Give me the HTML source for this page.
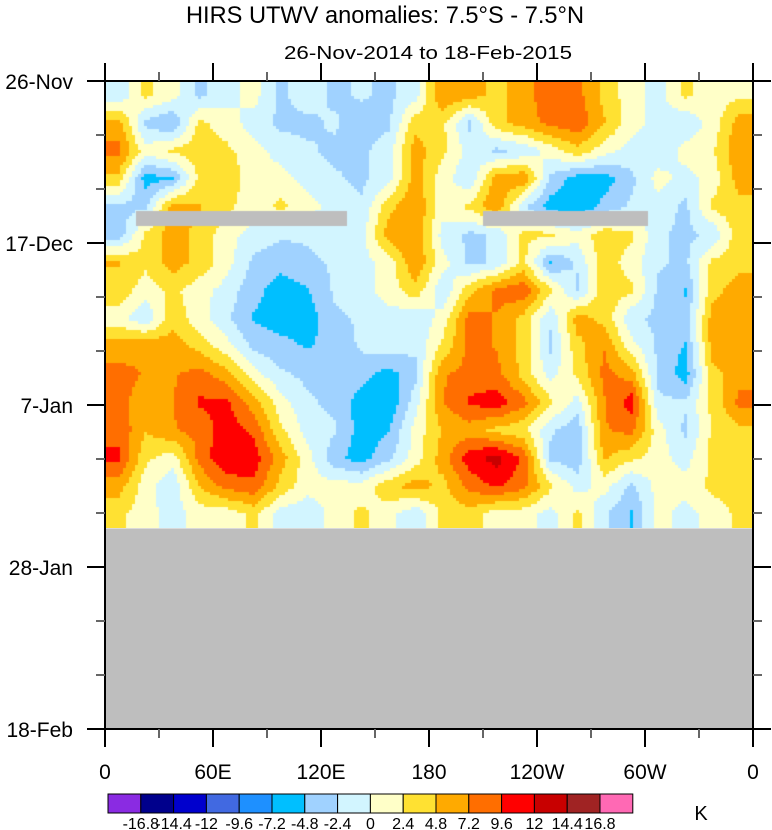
<!DOCTYPE html>
<html><head><meta charset="utf-8"><style>
body{margin:0;background:#fff;width:772px;height:830px;overflow:hidden;font-family:"Liberation Sans",Arial,sans-serif}
#wrap{position:relative;width:772px;height:830px}
canvas{position:absolute;left:105px;top:81px}
svg{position:absolute;left:0;top:0}
</style></head><body>
<div id="wrap">
<canvas id="cv" width="648" height="447"></canvas>
<svg id="sv" width="772" height="830"></svg>
</div>
<script>
// Data grid: rows = time (26-Nov onward, ~3.6 days each), cols = longitude bins (15° each from 0E)
const row00=[-2,3,1,-3,-1,1,-3,-1,-3,-2,-3,-1,7,6,4,6,9,8,4,1,-1,3,1,2];
const row01=[6,-3,-5,3,1,-1,-3,-3,-2,-4,-3,4,3,-3,4,6,8,9,5,1,-1,-2,1,6];
const row02=[8,1,3,4,3,1,-1,-2,-3,-3,-1,6,3,-1,-3,-2,1,4,1,-1,-2,1,2,7];
const row03=[4,-6,-5,3,4,1,1,-1,-2,-3,-1,6,1,-2,6,7,-3,-6,-6,-3,1,-1,1,6];
const row04=[-3,-3,6,5,3,1,3,1,-1,-2,4,7,1,3,7,-2,-6,-7,-4,-2,-1,-3,3,4];
const row05=[-4,3,6,4,1,-1,-2,-2,-1,-1,6,7,-1,-3,-2,3,3,1,4,3,-2,-3,-2,4];
const row06=[5,3,6,4,1,-3,-4,-3,-2,-1,1,7,1,-3,-2,3,-5,-2,4,1,-2,-3,3,4];
const row07=[4,1,3,1,-1,-4,-6,-5,-2,-1,1,4,-2,4,8,9,3,-3,4,3,-3,-5,4,6];
const row08=[1,-2,4,1,-2,-5,-6,-6,-3,-2,-1,-2,1,8,7,4,-2,6,4,-2,-3,-4,6,7];
const row09=[6,7,6,4,1,-3,-4,-5,-4,-2,-1,-2,3,8,7,4,-3,4,7,1,-3,-5,6,7];
const row10=[8,7,7,8,6,1,-2,-3,-3,-4,-6,-3,7,8,8,4,-1,3,8,6,-3,-6,4,6];
const row11=[8,6,7,10,10,6,1,-2,-3,-6,-7,-1,7,10,11,8,3,-1,7,11,-2,-2,3,8];
const row12=[9,5,7,8,11,9,3,-1,-2,-6,-5,1,5,6,4,3,-2,-4,7,8,1,-3,3,4];
const row13=[10,3,1,8,12,11,6,1,-4,-6,-3,1,6,11,13,9,-3,-4,5,3,1,-1,3,4];
const row14=[6,1,-2,5,8,9,4,1,1,1,4,6,4,8,10,8,3,-1,1,-3,1,1,3,4];
const row15=[3,1,-1,1,1,3,-1,-2,1,3,1,-2,3,4,1,1,-1,3,-2,-5,1,-1,1,3];
const grid=[row00,row01,row02,row03,row04,row05,row06,row07,row08,row09,row10,row11,row12,row13,row14,row15];
const levels=[-16.8,-14.4,-12,-9.6,-7.2,-4.8,-2.4,0,2.4,4.8,7.2,9.6,12,14.4,16.8];
const levelLabels=["-16.8","-14.4","-12","-9.6","-7.2","-4.8","-2.4","0","2.4","4.8","7.2","9.6","12","14.4","16.8"];
const colors=["#8a2be2","#00008c","#0000cd","#4169e1","#1e90ff","#00bfff","#a0d2ff","#d2f5ff","#ffffc8","#ffe132","#ffaa00","#ff6e00","#ff0000","#c80000","#a02323","#ff69b4"];
const yTickLabels=["26-Nov","17-Dec","7-Jan","28-Jan","18-Feb"];
const yTickDays=[0,21,42,63,84];
const xTickLabels=["0","60E","120E","180","120W","60W","0"];
const xTickLons=[0,60,120,180,240,300,360];

const PL=105,PT=81,PW=648,PH=648,TOTAL_DAYS=84,DATA_DAYS=58;
const xScale=lon=>PL+lon/360*PW;
const yScale=d=>PT+d/TOTAL_DAYS*PH;
function classify(v){let i=0;while(i<levels.length&&v>=levels[i])i++;return colors[i];}

const cv=document.getElementById('cv');const ctx=cv.getContext('2d');
const nr=grid.length,nc=grid[0].length;
const fw=cv.width,fh=Math.round(yScale(DATA_DAYS)-PT);
function val(r,c){r=Math.max(0,Math.min(nr-1,r));c=Math.max(0,Math.min(nc-1,c));return grid[r][c];}
const step=3;
for(let py=0;py<fh;py+=step){for(let px=0;px<fw;px+=step){
 const gx=(px+step/2)/fw*nc-0.5, gy=(py+step/2)/fh*nr-0.5;
 const c0=Math.floor(gx),r0=Math.floor(gy),fx=gx-c0,fy=gy-r0;
 const v=val(r0,c0)*(1-fx)*(1-fy)+val(r0,c0+1)*fx*(1-fy)+val(r0+1,c0)*(1-fx)*fy+val(r0+1,c0+1)*fx*fy;
 ctx.fillStyle=classify(v);ctx.fillRect(px,py,step,step);
}}
ctx.fillStyle="#bebebe";ctx.fillRect(0,fh,fw,cv.height-fh);
ctx.fillRect(136-PL,211-PT,211,15);ctx.fillRect(483-PL,211-PT,165,15);

const NS="http://www.w3.org/2000/svg";const sv=document.getElementById('sv');
function mk(t,a,p){const e=document.createElementNS(NS,t);for(const k in a)e.setAttribute(k,a[k]);(p||sv).appendChild(e);return e;}
const g1=mk('rect',{x:PL,y:yScale(DATA_DAYS),width:PW,height:PT+PH-yScale(DATA_DAYS),fill:'#bebebe'});


const fr=mk('rect',{x:PL,y:PT,width:PW,height:PH,fill:'none',stroke:'#000','stroke-width':2});


for(let d=0;d<=TOTAL_DAYS;d+=7){const y=yScale(d);const major=d%21===0;
 const l=mk('line',{x1:PL-(major?18:9),x2:PL,y1:y,y2:y,stroke:major?'#000':'#666','stroke-width':2});
 
 
 const r=mk('line',{x1:PL+PW,x2:PL+PW+(major?18:9),y1:y,y2:y,stroke:major?'#000':'#666','stroke-width':2});
 
 }
yTickLabels.forEach((t,i)=>{const e=mk('text',{x:73,y:yScale(yTickDays[i])+8,'text-anchor':'end','font-size':21});e.textContent=t;
 
 });
for(let lon=0;lon<=360;lon+=30){const x=xScale(lon);const major=lon%60===0;
 const b=mk('line',{x1:x,x2:x,y1:PT+PH,y2:PT+PH+(major?18:9),stroke:major?'#000':'#666','stroke-width':2});
 
 
 const t=mk('line',{x1:x,x2:x,y1:PT-(major?18:9),y2:PT,stroke:major?'#000':'#666','stroke-width':2});
 
 }
xTickLabels.forEach((t,i)=>{const e=mk('text',{x:xScale(xTickLons[i]),y:779,'text-anchor':'middle','font-size':21});e.textContent=t;
 
 });
const ti=mk('text',{x:385,y:23,'text-anchor':'middle','font-size':24,textLength:398,lengthAdjust:'spacingAndGlyphs'});ti.textContent="HIRS UTWV anomalies: 7.5°S - 7.5°N";


const st=mk('text',{x:428,y:59,'text-anchor':'middle','font-size':18,textLength:288,lengthAdjust:'spacingAndGlyphs'});st.textContent="26-Nov-2014 to 18-Feb-2015";


const CBX=108,CBW=32.8,CBY=794,CBH=19;
colors.forEach((c,i)=>{const r=mk('rect',{x:CBX+i*CBW,y:CBY,width:CBW,height:CBH,fill:c,stroke:'#000','stroke-width':1});
 
 });
levelLabels.forEach((t,i)=>{const e=mk('text',{x:CBX+(i+1)*CBW,y:829,'text-anchor':'middle','font-size':16});e.textContent=t;
 
 });
const u=mk('text',{x:701,y:820,'text-anchor':'middle','font-size':20});u.textContent="K";


</script>
</body></html>
